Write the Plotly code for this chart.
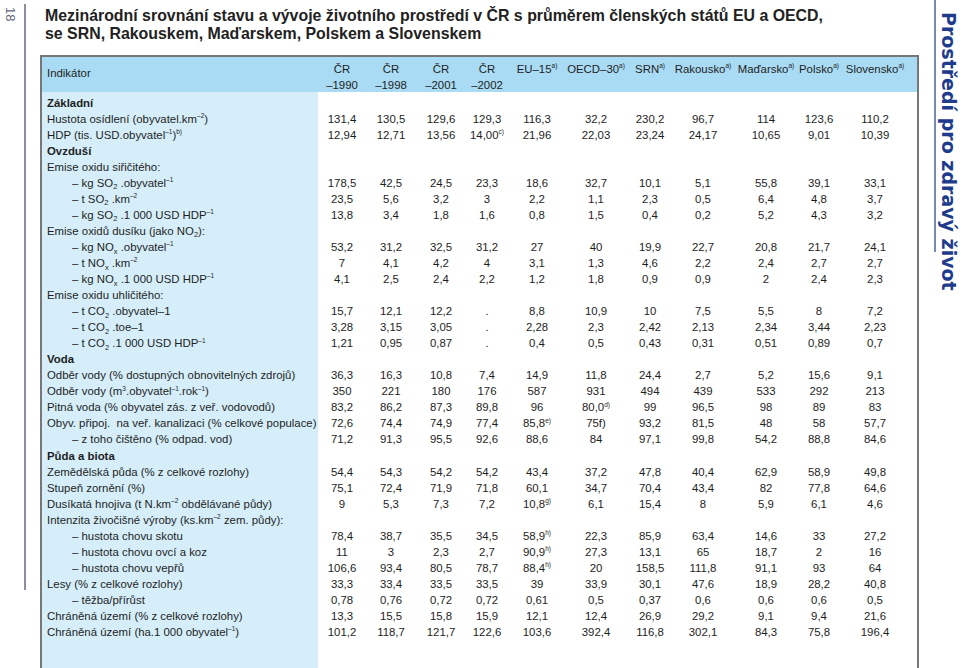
import plotly.graph_objects as go

# --- data -------------------------------------------------------------
title_lines = ["Mezinárodní srovnání stavu a vývoje životního prostředí v ČR s průměrem členských států EU a OECD,",
               "se SRN, Rakouskem, Maďarskem, Polskem a Slovenskem"]
page_number = "18"
side_title = "Prostředí pro zdravý život"

header_top = ["ČR", "ČR", "ČR", "ČR", "EU–15", "OECD–30", "SRN", "Rakousko", "Maďarsko", "Polsko", "Slovensko"]
header_note = ["", "", "", "", "a)", "a)", "a)", "a)", "a)", "a)", "a)"]
header_bottom = ["–1990", "–1998", "–2001", "–2002", "", "", "", "", "", "", ""]

sections = ["Základní", "Ovzduší", "Voda", "Půda a biota"]
indicators = [
    "Základní",
    "Hustota osídlení (obyvatel.km<sup>–2</sup>)",
    "HDP (tis. USD.obyvatel<sup>–1</sup>)<sup>b)</sup>",
    "Ovzduší",
    "Emise oxidu siřičitého:",
    "– kg SO<sub>2</sub> .obyvatel<sup>–1</sup>",
    "– t SO<sub>2</sub> .km<sup>–2</sup>",
    "– kg SO<sub>2</sub> .1 000 USD HDP<sup>–1</sup>",
    "Emise oxidů dusíku (jako NO<sub>2</sub>):",
    "– kg NO<sub>x</sub> .obyvatel<sup>–1</sup>",
    "– t NO<sub>x</sub> .km<sup>–2</sup>",
    "– kg NO<sub>x</sub> .1 000 USD HDP<sup>–1</sup>",
    "Emise oxidu uhličitého:",
    "– t CO<sub>2</sub> .obyvatel–1",
    "– t CO<sub>2</sub> .toe–1",
    "– t CO<sub>2</sub> .1 000 USD HDP<sup>–1</sup>",
    "Voda",
    "Odběr vody (% dostupných obnovitelných zdrojů)",
    "Odběr vody (m<sup>3</sup>.obyvatel<sup>–1</sup>.rok<sup>–1</sup>)",
    "Pitná voda (% obyvatel zás. z veř. vodovodů)",
    "Obyv. připoj.  na veř. kanalizaci (% celkové populace)",
    "– z toho čištěno (% odpad. vod)",
    "Půda a biota",
    "Zemědělská půda (% z celkové rozlohy)",
    "Stupeň zornění (%)",
    "Dusíkatá hnojiva (t N.km<sup>–2</sup> obdělávané půdy)",
    "Intenzita živočišné výroby (ks.km<sup>–2</sup> zem. půdy):",
    "– hustota chovu skotu",
    "– hustota chovu ovcí a koz",
    "– hustota chovu vepřů",
    "Lesy (% z celkové rozlohy)",
    "– těžba/přírůst",
    "Chráněná území (% z celkové rozlohy)",
    "Chráněná území (ha.1 000 obyvatel<sup>–1</sup>)",
]

cr_1990 = ["131,4", "12,94", "178,5", "23,5", "13,8", "53,2", "7", "4,1", "15,7", "3,28", "1,21", "36,3", "350",
           "83,2", "72,6", "71,2", "54,4", "75,1", "9", "78,4", "11", "106,6", "33,3", "0,78", "13,3", "101,2"]
cr_1998 = ["130,5", "12,71", "42,5", "5,6", "3,4", "31,2", "4,1", "2,5", "12,1", "3,15", "0,95", "16,3", "221",
           "86,2", "74,4", "91,3", "54,3", "72,4", "5,3", "38,7", "3", "93,4", "33,4", "0,76", "15,5", "118,7"]
cr_2001 = ["129,6", "13,56", "24,5", "3,2", "1,8", "32,5", "4,2", "2,4", "12,2", "3,05", "0,87", "10,8", "180",
           "87,3", "74,9", "95,5", "54,2", "71,9", "7,3", "35,5", "2,3", "80,5", "33,5", "0,72", "15,8", "121,7"]
cr_2002 = ["129,3", "14,00<sup>c)</sup>", "23,3", "3", "1,6", "31,2", "4", "2,2", ".", ".", ".", "7,4", "176",
           "89,8", "77,4", "92,6", "54,2", "71,8", "7,2", "34,5", "2,7", "78,7", "33,5", "0,72", "15,9", "122,6"]
eu_15 = ["116,3", "21,96", "18,6", "2,2", "0,8", "27", "3,1", "1,2", "8,8", "2,28", "0,4", "14,9", "587",
         "96", "85,8<sup>e)</sup>", "88,6", "43,4", "60,1", "10,8<sup>g)</sup>", "58,9<sup>h)</sup>",
         "90,9<sup>h)</sup>", "88,4<sup>h)</sup>", "39", "0,61", "12,1", "103,6"]
oecd_30 = ["32,2", "22,03", "32,7", "1,1", "1,5", "40", "1,3", "1,8", "10,9", "2,3", "0,5", "11,8", "931",
           "80,0<sup>d)</sup>", "75f)", "84", "37,2", "34,7", "6,1", "22,3", "27,3", "20", "33,9", "0,5", "12,4", "392,4"]
srn = ["230,2", "23,24", "10,1", "2,3", "0,4", "19,9", "4,6", "0,9", "10", "2,42", "0,43", "24,4", "494",
       "99", "93,2", "97,1", "47,8", "70,4", "15,4", "85,9", "13,1", "158,5", "30,1", "0,37", "26,9", "116,8"]
rakousko = ["96,7", "24,17", "5,1", "0,5", "0,2", "22,7", "2,2", "0,9", "7,5", "2,13", "0,31", "2,7", "439",
            "96,5", "81,5", "99,8", "40,4", "43,4", "8", "63,4", "65", "111,8", "47,6", "0,6", "29,2", "302,1"]
madarsko = ["114", "10,65", "55,8", "6,4", "5,2", "20,8", "2,4", "2", "5,5", "2,34", "0,51", "5,2", "533",
            "98", "48", "54,2", "62,9", "82", "5,9", "14,6", "18,7", "91,1", "18,9", "0,6", "9,1", "84,3"]
polsko = ["123,6", "9,01", "39,1", "4,8", "4,3", "21,7", "2,7", "2,4", "8", "3,44", "0,89", "15,6", "292",
          "89", "58", "88,8", "58,9", "77,8", "6,1", "33", "2", "93", "28,2", "0,6", "9,4", "75,8"]
slovensko = ["110,2", "10,39", "33,1", "3,7", "3,2", "24,1", "2,7", "2,3", "7,2", "2,23", "0,7", "9,1", "213",
             "83", "57,7", "84,6", "49,8", "64,6", "4,6", "27,2", "16", "64", "40,8", "0,5", "21,6", "196,4"]

columns = [cr_1990, cr_1998, cr_2001, cr_2002, eu_15, oecd_30, srn, rakousko, madarsko, polsko, slovensko]

# --- layout ------------------------------------------------------------
W, H = 960, 668
col_x = [342, 391, 441, 487, 537, 596, 650, 703, 766, 819, 875]
row_y0, row_dy = 104, 16.03
label_x, indent_x = 47, 72
FONT = "Liberation Sans, Arial, sans-serif"
FS = 11.4
TXT = "#1e1e1e"
HEAD_BLUE = "#a9dbf4"
COL_BLUE = "#d5eefa"
BORDER = "#777777"


def small_marks(s):
    # tiny footnote / exponent marks like in the printed table
    s = s.replace("<sup>", "<sup><span style='font-size:6.5px'>").replace("</sup>", "</span></sup>")
    return s.replace("<sub>", "<sub><span style='font-size:7.5px'>").replace("</sub>", "</span></sub>")


row_y = [row_y0 + i * row_dy for i in range(len(indicators))]
value_rows = [i for i, lab in enumerate(indicators) if lab not in sections and not lab.endswith(":")]

fig = go.Figure()

# indicator labels
for kind in ("section", "plain", "indent"):
    xs, ys, ts = [], [], []
    for i, lab in enumerate(indicators):
        k = "section" if lab in sections else ("indent" if lab.startswith("– ") else "plain")
        if k != kind:
            continue
        xs.append(indent_x if k == "indent" else label_x)
        ys.append(row_y[i])
        ts.append("<b>%s</b>" % lab if k == "section" else small_marks(lab))
    fig.add_trace(go.Scatter(x=xs, y=ys, text=ts, mode="text", textposition="middle right",
                             textfont=dict(family=FONT, size=FS, color=TXT), hoverinfo="skip"))

# values
for cx, vals in zip(col_x, columns):
    fig.add_trace(go.Scatter(x=[cx] * len(vals), y=[row_y[i] for i in value_rows],
                             text=[small_marks(v) for v in vals],
                             mode="text", textposition="middle center",
                             textfont=dict(family=FONT, size=FS, color=TXT), hoverinfo="skip"))

# header
head_top = [t + (small_marks("<sup>%s</sup>" % n) if n else "") for t, n in zip(header_top, header_note)]
fig.add_trace(go.Scatter(x=[label_x], y=[74], text=["Indikátor"], mode="text", textposition="middle right",
                         textfont=dict(family=FONT, size=FS, color=TXT), hoverinfo="skip"))
fig.add_trace(go.Scatter(x=col_x, y=[70] * len(col_x), text=head_top, mode="text",
                         textposition="middle center", textfont=dict(family=FONT, size=FS, color=TXT),
                         hoverinfo="skip"))
fig.add_trace(go.Scatter(x=col_x, y=[86] * len(col_x), text=header_bottom, mode="text",
                         textposition="middle center", textfont=dict(family=FONT, size=FS, color=TXT),
                         hoverinfo="skip"))

# table backgrounds and frame
fig.add_shape(type="rect", x0=41, x1=918, y0=56, y1=92, fillcolor=HEAD_BLUE, line_width=0, layer="below")
fig.add_shape(type="rect", x0=41, x1=318, y0=92, y1=H + 5, fillcolor=COL_BLUE, line_width=0, layer="below")
fig.add_shape(type="path", path="M 41 %d L 41 56 L 918 56 L 918 %d" % (H + 5, H + 5),
              line=dict(color=BORDER, width=2))
# page rules
fig.add_shape(type="line", x0=25, x1=25, y0=4, y1=590, line=dict(color="#8c8f9c", width=2))
fig.add_shape(type="line", x0=935, x1=935, y0=0, y1=252, line=dict(color="#4d6394", width=1.5))

# title and margin texts
for j, t in enumerate(title_lines):
    fig.add_annotation(x=43, y=15 + j * 18.5, text="<b>%s</b>" % t, showarrow=False, xanchor="left",
                       yanchor="middle", font=dict(family="Liberation Sans, Arial, sans-serif", size=15.9,
                                                   color="#222222"))
fig.add_annotation(x=11, y=14, text=page_number, textangle=90, showarrow=False,
                   font=dict(family="Liberation Sans, sans-serif", size=13, color="#666a78"))
fig.add_annotation(x=949, y=151, text="<b>%s</b>" % side_title, textangle=90, showarrow=False,
                   font=dict(family="DejaVu Sans, sans-serif", size=19, color="#1f3c8c"))

fig.update_xaxes(range=[0, W], visible=False, fixedrange=True)
fig.update_yaxes(range=[H, 0], visible=False, fixedrange=True)
fig.update_layout(width=W, height=H, margin=dict(l=0, r=0, t=0, b=0), showlegend=False,
                  plot_bgcolor="white", paper_bgcolor="white")

fig.write_html("out.html", config={"displayModeBar": False},
               post_script="document.body.style.margin='0';")
